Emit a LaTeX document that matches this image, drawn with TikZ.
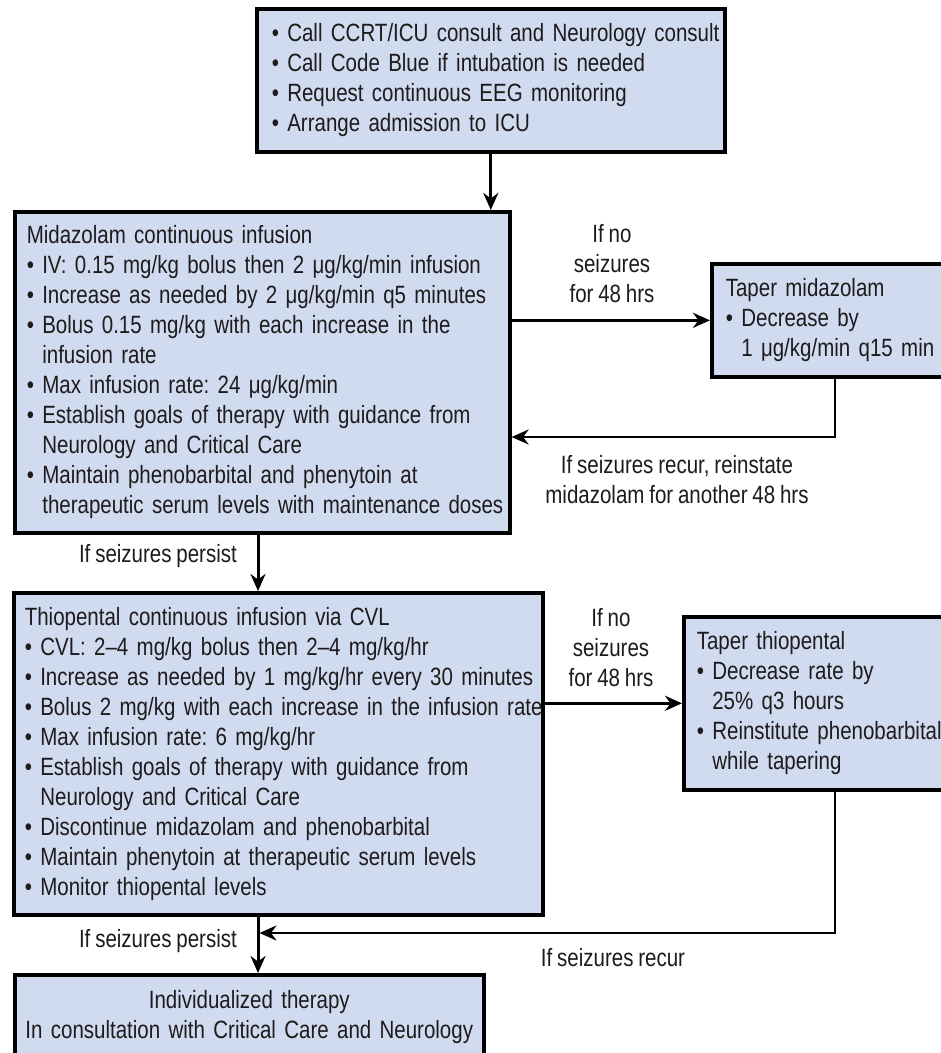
\documentclass[tikz,border=0pt]{standalone}
\usepackage{fontspec}
\setmainfont{Liberation Sans}[FakeStretch=0.82,WordSpace=0.85]
\usetikzlibrary{arrows.meta}
\definecolor{boxfill}{RGB}{209,219,240}
\definecolor{ink}{RGB}{30,27,28}
\newcommand{\bl}[1]{\mbox{•\ #1}}
\newcommand{\cl}[1]{\mbox{\hphantom{•\ }#1}}
\newcommand{\pl}[1]{\mbox{#1}}
\frenchspacing
\begin{document}
\begin{tikzpicture}[x=1pt,y=-1pt,
  every node/.style={font=\fontsize{25}{30}\selectfont\frenchspacing, text=ink},
  box/.style={draw=black, line width=3.6pt, fill=boxfill, anchor=north west, align=left, inner ysep=0pt},
  conn/.style={draw=black, line width=3pt, -{Stealth[length=17pt,width=15pt]}},
  back/.style={draw=black, line width=2.6pt, -{Stealth[length=17pt,width=15pt]}},
  lbl/.style={align=center, inner sep=0pt}]
\useasboundingbox (0,0) rectangle (941,1053);
\clip (0,0) rectangle (941,1053);
\fill[white] (0,0) rectangle (941,1053);

\node[box, inner xsep=15pt, text width=438pt, minimum height=143pt] (top) at (255,7)
 {\bl{Call CCRT/ICU consult and Neurology consult}\\
  \bl{Call Code Blue if intubation is needed}\\
  \bl{Request continuous EEG monitoring}\\
  \bl{Arrange admission to ICU}};

\node[box, inner xsep=12pt, text width=471pt, minimum height=321pt] (mid) at (13,210)
 {\pl{Midazolam continuous infusion}\\
  \bl{IV: 0.15 mg/kg bolus then 2 μg/kg/min infusion}\\
  \bl{Increase as needed by 2 μg/kg/min q5 minutes}\\
  \bl{Bolus 0.15 mg/kg with each increase in the}\\
  \cl{infusion rate}\\
  \bl{Max infusion rate: 24 μg/kg/min}\\
  \bl{Establish goals of therapy with guidance from}\\
  \cl{Neurology and Critical Care}\\
  \bl{Maintain phenobarbital and phenytoin at}\\
  \cl{therapeutic serum levels with maintenance doses}};

\node[box, inner xsep=14pt, text width=218pt, minimum height=113pt] (tapm) at (710,262)
 {\pl{Taper midazolam}\\
  \bl{Decrease by}\\
  \cl{1 μg/kg/min q15 min}};

\node[box, inner xsep=11pt, text width=507pt, minimum height=322pt] (thio) at (12,591)
 {\pl{Thiopental continuous infusion via CVL}\\
  \bl{CVL: 2–4 mg/kg bolus then 2–4 mg/kg/hr}\\
  \bl{Increase as needed by 1 mg/kg/hr every 30 minutes}\\
  \bl{Bolus 2 mg/kg with each increase in the infusion rate}\\
  \bl{Max infusion rate: 6 mg/kg/hr}\\
  \bl{Establish goals of therapy with guidance from}\\
  \cl{Neurology and Critical Care}\\
  \bl{Discontinue midazolam and phenobarbital}\\
  \bl{Maintain phenytoin at therapeutic serum levels}\\
  \bl{Monitor thiopental levels}};

\node[box, inner xsep=13pt, text width=276pt, minimum height=173pt] (tapt) at (682,615)
 {\pl{Taper thiopental}\\
  \bl{Decrease rate by}\\
  \cl{25\% q3 hours}\\
  \bl{Reinstitute phenobarbital}\\
  \cl{while tapering}};

\node[box, align=center, inner xsep=10pt, text width=449pt, minimum height=84pt] (final) at (13,973)
 {\pl{Individualized therapy}\\
  \pl{In consultation with Critical Care and Neurology}};

\coordinate (spine) at (258,0);
\coordinate (r1) at (833,437);
\coordinate (r2) at (833,933);

\draw[conn] (top.south) -- (top.south |- mid.north);
\draw[conn] (mid.east |- tapm.west) -- (tapm.west);
\draw[back] (tapm.south) -- (tapm.south |- r1) -- (mid.east |- r1);
\draw[conn] (mid.south -| spine) -- (thio.north -| spine);
\draw[conn] (thio.east |- tapt.west) -- (tapt.west);
\draw[back, shorten >=1.5pt] (tapt.south) -- (tapt.south |- r2) -- (spine |- r2);
\draw[conn] (thio.south -| spine) -- (final.north -| spine);

\node[lbl] (l1) at (612,264) {If no\\seizures\\for 48 hrs};
\node[lbl] (l2) at (677,480) {If seizures recur, reinstate\\midazolam for another 48 hrs};
\node[lbl, anchor=east] (l3) at (237,556) {If seizures persist};
\node[lbl] (l4) at (611,648) {If no\\seizures\\for 48 hrs};
\node[lbl, anchor=east] (l5) at (237,941) {If seizures persist};
\node[lbl] (l6) at (613,958) {If seizures recur};
\end{tikzpicture}
\end{document}
